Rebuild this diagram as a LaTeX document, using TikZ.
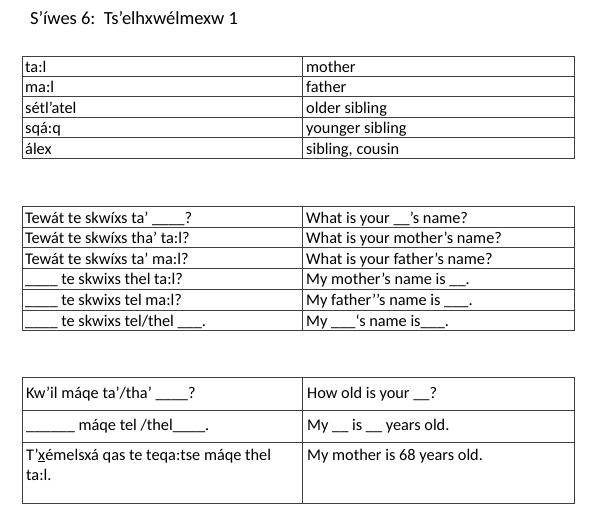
\documentclass[tikz,border=0pt]{standalone}
\usepackage{fontspec}
\setmainfont{Carlito}
\newcommand{\xbar}{x\llap{\rule[-2pt]{0.45em}{0.6pt}\hspace{0.02em}}}
\begin{document}
\begin{tikzpicture}[x=1pt,y=-1pt,
  t/.style={anchor=base west,inner sep=0pt,font=\fontsize{16.3}{19}\selectfont},
  grid/.style={draw=black!75,line width=0.8pt}]
\useasboundingbox (0,0) rectangle (600,527);
\node[t,font=\fontsize{18.5}{22}\selectfont] (title) at (30,25) {S’íwes 6:\ \ Ts’elhxwélmexw 1};
% table 1
\draw[grid] (22,56) rectangle (574,158);
\foreach \y in {76,96,117,137} \draw[grid] (22,\y) -- (574,\y);
\draw[grid] (302,56) -- (302,158);
\foreach \l/\r [count=\i] in {ta:l/mother,ma:l/father,sétl’atel/older sibling,sqá:q/younger sibling,álex/{sibling, cousin}}{
  \node[t] (a\i) at (25,{52+20.4*\i}) {\l};
  \node[t] (b\i) at (306,{52+20.4*\i}) {\r};
}
% table 2
\draw[grid] (22,206) rectangle (574,330);
\foreach \y in {227,247,268,289,310} \draw[grid] (22,\y) -- (574,\y);
\draw[grid] (302,206) -- (302,330);
\foreach \l/\r [count=\i] in {
  {Tewát te skwíxs ta’ \_\_\_\_?}/{What is your \_\_'s name?},
  {Tewát te skwíxs tha’ ta:l?}/{What is your mother's name?},
  {Tewát te skwíxs ta’ ma:l?}/{What is your father’s name?},
  {\_\_\_\_ te skwixs thel ta:l?}/{My mother’s name is \_\_.},
  {\_\_\_\_ te skwixs tel ma:l?}/{My father’'s name is \_\_\_.},
  {\_\_\_\_ te skwixs tel/thel \_\_\_.}/{My \_\_\_‘s name is\_\_\_.}}{
  \node[t] (c\i) at (25,{202.5+20.6*\i}) {\l};
  \node[t] (d\i) at (306,{202.5+20.6*\i}) {\r};
}
% table 3
\draw[grid] (22,377) rectangle (574,503);
\foreach \y in {410,442} \draw[grid] (22,\y) -- (574,\y);
\draw[grid] (302,377) -- (302,503);
\node[t] (e1) at (26,398) {Kw’il máqe ta’/tha’ \_\_\_\_?};
\node[t] (f1) at (307,398) {How old is your \_\_?};
\node[t] (e2) at (26,430) {\_\_\_\_\_\_ máqe tel /thel\_\_\_\_.};
\node[t] (f2) at (307,430) {My \_\_ is \_\_ years old.};
\node[t] (e3) at (26,460) {T’\xbar émelsxá qas te teqa:tse máqe thel};
\node[t] (e4) at (26,480) {ta:l.};
\node[t] (f3) at (307,460) {My mother is 68 years old.};
\end{tikzpicture}
\end{document}
